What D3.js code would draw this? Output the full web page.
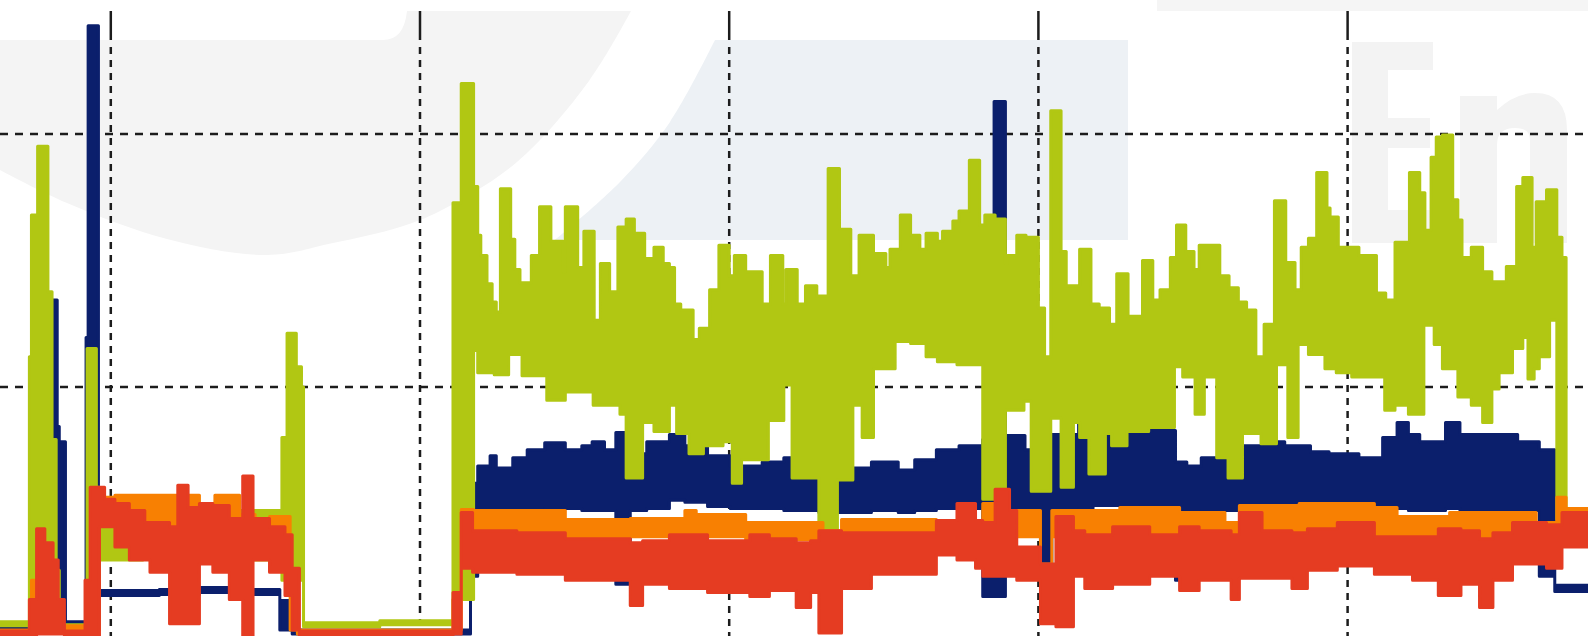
<!DOCTYPE html>
<html>
<head>
<meta charset="utf-8">
<script src="https://cdn.jsdelivr.net/npm/d3@7/dist/d3.min.js"></script>
<style>
	body { margin: 0; background: #fff; }
	svg { display: block; }
</style>
</head>
<body>
<script>
// grid ticks (time steps / load units)
var xGridTicks = [300, 600, 900, 1200, 1500];
var yGridTicks = [250, 500];

// each row: [time, min, max] of the signal over that step
var navyBand = [
	[192, 8, 12], [243, 10, 336], [248, 10, 211], [250, 10, 196], [256, 8, 18],
	[276, 10, 299], [278, 10, 607], [288, 44, 49], [347, 45, 50], [386, 47, 52],
	[425, 45, 50], [464, 10, 39], [476, 6, 10], [649, 63, 155], [656, 123, 172],
	[668, 126, 182], [674, 126, 170], [690, 128, 180], [704, 128, 188], [721, 130, 195],
	[741, 130, 188], [757, 128, 192], [767, 128, 196], [779, 128, 188], [790, 55, 205],
	[799, 55, 184], [804, 128, 184], [820, 130, 196], [842, 138, 203], [857, 136, 192],
	[879, 132, 182], [901, 130, 172], [932, 130, 176], [953, 128, 180], [987, 126, 170],
	[1038, 128, 176], [1064, 126, 168], [1080, 128, 178], [1101, 130, 188], [1123, 130, 192],
	[1146, 43, 198], [1157, 43, 532], [1168, 126, 202], [1187, 126, 188], [1202, 71, 192],
	[1213, 128, 203], [1239, 130, 215], [1253, 133, 203], [1297, 130, 211], [1312, 128, 207],
	[1333, 59, 176], [1344, 126, 172], [1358, 128, 180], [1399, 130, 192], [1417, 130, 196],
	[1430, 75, 196], [1439, 130, 192], [1464, 128, 186], [1482, 128, 184], [1511, 128, 180],
	[1534, 130, 200], [1548, 130, 215], [1559, 128, 203], [1570, 128, 196], [1595, 130, 215],
	[1609, 128, 203], [1665, 128, 196], [1686, 63, 188], [1701, 48, 54], [1733, 48, 54]
];

var greenBand = [
	[192, 14, 18], [221, 10, 280], [223, 10, 420], [229, 10, 488], [239, 10, 344],
	[243, 10, 198], [247, 10, 69], [250, 10, 15], [277, 10, 288], [286, 10, 151],
	[289, 79, 133], [331, 99, 120], [338, 79, 128], [466, 59, 200], [471, 59, 303],
	[480, 59, 270], [485, 59, 250], [487, 13, 17], [561, 15, 19], [632, 40, 432],
	[640, 40, 550], [652, 286, 448], [656, 264, 400], [659, 264, 380], [665, 264, 352],
	[670, 264, 334], [672, 262, 334], [674, 262, 324], [678, 262, 446], [686, 282, 446],
	[688, 282, 396], [692, 282, 366], [697, 282, 353], [699, 261, 353], [708, 261, 380],
	[716, 261, 428], [723, 237, 428], [727, 237, 394], [739, 237, 364], [741, 245, 428],
	[753, 245, 368], [759, 245, 404], [768, 232, 404], [769, 232, 316], [775, 232, 372],
	[784, 232, 344], [792, 232, 408], [794, 223, 408], [800, 160, 416], [808, 160, 402],
	[816, 215, 402], [818, 215, 377], [827, 206, 388], [836, 206, 372], [842, 232, 368],
	[847, 232, 332], [849, 204, 332], [853, 204, 326], [861, 184, 326], [865, 184, 297],
	[871, 184, 308], [875, 192, 308], [881, 192, 346], [890, 192, 390], [894, 196, 390],
	[900, 196, 360], [903, 155, 360], [905, 155, 380], [912, 178, 380], [916, 178, 364],
	[932, 178, 332], [938, 217, 332], [940, 217, 380], [952, 217, 332], [953, 252, 332],
	[955, 252, 366], [961, 160, 366], [966, 160, 332], [974, 160, 350], [985, 160, 340],
	[987, 104, 340], [996, 104, 466], [1005, 158, 466], [1007, 158, 406], [1018, 158, 360],
	[1020, 232, 360], [1026, 232, 400], [1029, 200, 400], [1040, 268, 382], [1052, 268, 368],
	[1056, 268, 386], [1061, 295, 386], [1066, 295, 420], [1076, 293, 400], [1085, 293, 386],
	[1091, 280, 402], [1102, 275, 394], [1107, 275, 404], [1117, 275, 414], [1121, 272, 414],
	[1123, 272, 424], [1133, 272, 474], [1143, 272, 410], [1146, 139, 410], [1148, 139, 420],
	[1158, 139, 416], [1168, 227, 372], [1170, 227, 380], [1179, 227, 400], [1186, 236, 400],
	[1188, 236, 398], [1193, 147, 398], [1200, 147, 328], [1206, 147, 280], [1212, 219, 523],
	[1222, 151, 384], [1227, 151, 350], [1234, 215, 350], [1240, 200, 386], [1249, 164, 386],
	[1251, 164, 332], [1259, 164, 328], [1265, 204, 328], [1269, 204, 312], [1271, 192, 312],
	[1276, 192, 362], [1286, 206, 362], [1287, 206, 320], [1301, 206, 375], [1307, 210, 375],
	[1311, 210, 336], [1318, 210, 346], [1328, 210, 378], [1332, 270, 378], [1334, 270, 410],
	[1340, 260, 410], [1343, 260, 384], [1351, 260, 366], [1352, 223, 366], [1356, 223, 390],
	[1361, 260, 390], [1373, 180, 390], [1376, 180, 360], [1384, 160, 360], [1385, 160, 348],
	[1394, 160, 334], [1398, 204, 334], [1402, 204, 326], [1411, 204, 280], [1416, 194, 280],
	[1419, 194, 312], [1429, 194, 434], [1431, 272, 434], [1440, 272, 373], [1442, 200, 373],
	[1449, 200, 346], [1452, 292, 346], [1455, 292, 388], [1462, 282, 397], [1470, 282, 462],
	[1478, 268, 462], [1480, 268, 427], [1483, 268, 418], [1489, 264, 418], [1491, 264, 388],
	[1504, 260, 388], [1511, 260, 380], [1528, 260, 343], [1536, 227, 343], [1537, 227, 336],
	[1546, 232, 393], [1559, 223, 393], [1560, 223, 462], [1570, 223, 442], [1574, 311, 442],
	[1575, 311, 405], [1581, 311, 477], [1584, 292, 477], [1586, 292, 497], [1592, 268, 499],
	[1602, 268, 435], [1607, 240, 415], [1611, 240, 378], [1620, 232, 388], [1631, 215, 364],
	[1640, 248, 354], [1647, 264, 354], [1654, 264, 369], [1660, 288, 369], [1664, 288, 448],
	[1670, 299, 457], [1675, 258, 457], [1679, 258, 388], [1681, 268, 388], [1683, 268, 433],
	[1686, 280, 433], [1693, 280, 445], [1696, 316, 445], [1703, 119, 398], [1708, 119, 378],
	[1712, 119, 378]
];

var orangeBand = [
	[192, 6, 10], [223, 10, 59], [229, 10, 14], [285, 79, 139], [289, 114, 141],
	[304, 112, 143], [386, 112, 135], [401, 112, 143], [425, 99, 124], [440, 99, 120],
	[454, 99, 122], [474, 10, 40], [481, 6, 10], [632, 10, 40], [640, 104, 129],
	[652, 104, 128], [741, 102, 119], [804, 102, 120], [857, 102, 128], [868, 102, 124],
	[916, 99, 116], [991, 91, 108], [1009, 102, 119], [1101, 102, 116], [1146, 102, 135],
	[1168, 102, 128], [1202, 59, 75], [1213, 102, 128], [1279, 102, 131], [1337, 102, 126],
	[1381, 102, 116], [1395, 102, 133], [1453, 102, 135], [1526, 102, 131], [1548, 102, 122],
	[1599, 102, 126], [1683, 102, 116], [1703, 102, 141], [1712, 102, 130], [1733, 102, 130]
];

var redBand = [
	[192, 4, 9], [221, 4, 40], [228, 6, 110], [236, 6, 96], [244, 6, 79],
	[249, 6, 40], [255, 4, 9], [275, 4, 59], [280, 4, 151], [289, 112, 151],
	[294, 112, 139], [304, 92, 135], [318, 79, 128], [333, 79, 116], [338, 67, 116],
	[357, 16, 112], [365, 16, 153], [375, 16, 131], [386, 75, 135], [399, 67, 133],
	[415, 40, 120], [428, 4, 162], [438, 79, 120], [454, 67, 112], [469, 44, 104],
	[476, 10, 71], [483, 4, 9], [632, 6, 47], [640, 71, 126], [651, 67, 108],
	[694, 65, 106], [741, 59, 100], [804, 34, 96], [816, 55, 98], [842, 51, 104],
	[879, 47, 98], [920, 43, 104], [939, 49, 100], [965, 32, 96], [979, 47, 98],
	[987, 7, 108], [1009, 51, 106], [1038, 65, 106], [1101, 84, 118], [1121, 79, 135],
	[1139, 71, 118], [1146, 63, 116], [1158, 63, 149], [1172, 63, 128], [1179, 59, 92],
	[1202, 16, 75], [1217, 13, 122], [1234, 63, 108], [1245, 51, 104], [1272, 55, 112],
	[1308, 63, 104], [1337, 49, 112], [1356, 59, 108], [1387, 40, 104], [1395, 61, 126],
	[1417, 61, 108], [1446, 51, 106], [1461, 69, 110], [1490, 73, 116], [1526, 65, 102],
	[1563, 59, 102], [1588, 44, 110], [1610, 55, 108], [1628, 32, 100], [1641, 59, 106],
	[1660, 75, 116], [1693, 71, 114], [1708, 92, 126], [1733, 92, 126]
];

var series = [
	{ name: 'navy', color: '#0b1f6c', rows: navyBand },
	{ name: 'green', color: '#b1c713', rows: greenBand },
	{ name: 'orange', color: '#f88002', rows: orangeBand },
	{ name: 'red', color: '#e53c22', rows: redBand }
];

var width = 1588, height = 636;

var x = d3.scaleLinear().domain([300, 1500]).range([110.8, 1347.6]);
var y = d3.scaleLinear().domain([0, 500]).range([640, 134]);

var svg = d3.select('body').append('svg')
	.attr('width', width)
	.attr('height', height);

svg.append('rect').attr('width', width).attr('height', height).attr('fill', '#fff');

// faint logo watermark behind the plot
var mark = svg.append('g').attr('class', 'watermark');
var smooth = d3.line().curve(d3.curveCatmullRom);

var blobEdge = [[631, 11], [589, 81], [517, 162], [440, 211], [400, 227], [333, 243],
	[267, 255], [167, 239], [67, 203], [0, 170]];
mark.append('path')
	.attr('d', 'M0,40L383,40Q404,40 407,11' + smooth(blobEdge).replace(/^M/, 'L') + 'Z')
	.attr('fill', '#f4f4f4');

var panelEdge = [[555, 240], [620, 182], [670, 122], [715, 40]];
mark.append('path')
	.attr('d', 'M715,40L1128,40L1128,240' + smooth(panelEdge).replace(/^M/, 'L') + 'Z')
	.attr('fill', '#edf1f5');

mark.append('rect')
	.attr('x', 1157).attr('y', 0).attr('width', width - 1157).attr('height', 11)
	.attr('fill', '#f5f5f5');

mark.append('path')
	.attr('d', 'M1352,42L1433,42L1433,70L1388,70L1388,118L1430,118L1430,148L1388,148L1388,210L1433,210L1433,243L1352,243Z')
	.attr('fill', '#f3f3f3');
mark.append('path')
	.attr('d', 'M1460,243L1460,96L1497,96L1497,110Q1515,93 1535,93Q1567,93 1567,130L1567,243L1530,243L1530,140Q1530,128 1515,128Q1497,128 1497,145L1497,243Z')
	.attr('fill', '#f3f3f3');

// dashed grid
var grid = svg.append('g').attr('class', 'grid')
	.attr('stroke', '#1c1c1c')
	.attr('stroke-width', 2.5)
	.attr('fill', 'none');

grid.selectAll('.vtick').data(xGridTicks).enter().append('line')
	.attr('class', 'vtick')
	.attr('x1', x).attr('x2', x)
	.attr('y1', 11).attr('y2', 40);

grid.selectAll('.vgrid').data(xGridTicks).enter().append('line')
	.attr('class', 'vgrid')
	.attr('x1', x).attr('x2', x)
	.attr('y1', 47).attr('y2', height)
	.attr('stroke-dasharray', '7,6');

grid.selectAll('.hgrid').data(yGridTicks).enter().append('line')
	.attr('class', 'hgrid')
	.attr('x1', 0).attr('x2', width)
	.attr('y1', y).attr('y2', y)
	.attr('stroke-dasharray', '8,7');

// min/max envelope of each signal, drawn as stepped bands
var band = d3.area()
	.x(function(d) { return x(d[0]); })
	.y0(function(d) { return y(d[1]); })
	.y1(function(d) { return y(d[2]); })
	.curve(d3.curveStepAfter);

svg.append('g').attr('class', 'series')
	.selectAll('path')
	.data(series)
	.enter().append('path')
	.attr('class', function(s) { return 'band ' + s.name; })
	.attr('d', function(s) { return band(s.rows); })
	.attr('fill', function(s) { return s.color; })
	.attr('stroke', function(s) { return s.color; })
	.attr('stroke-width', 3)
	.attr('stroke-linejoin', 'round');
</script>
</body>
</html>
